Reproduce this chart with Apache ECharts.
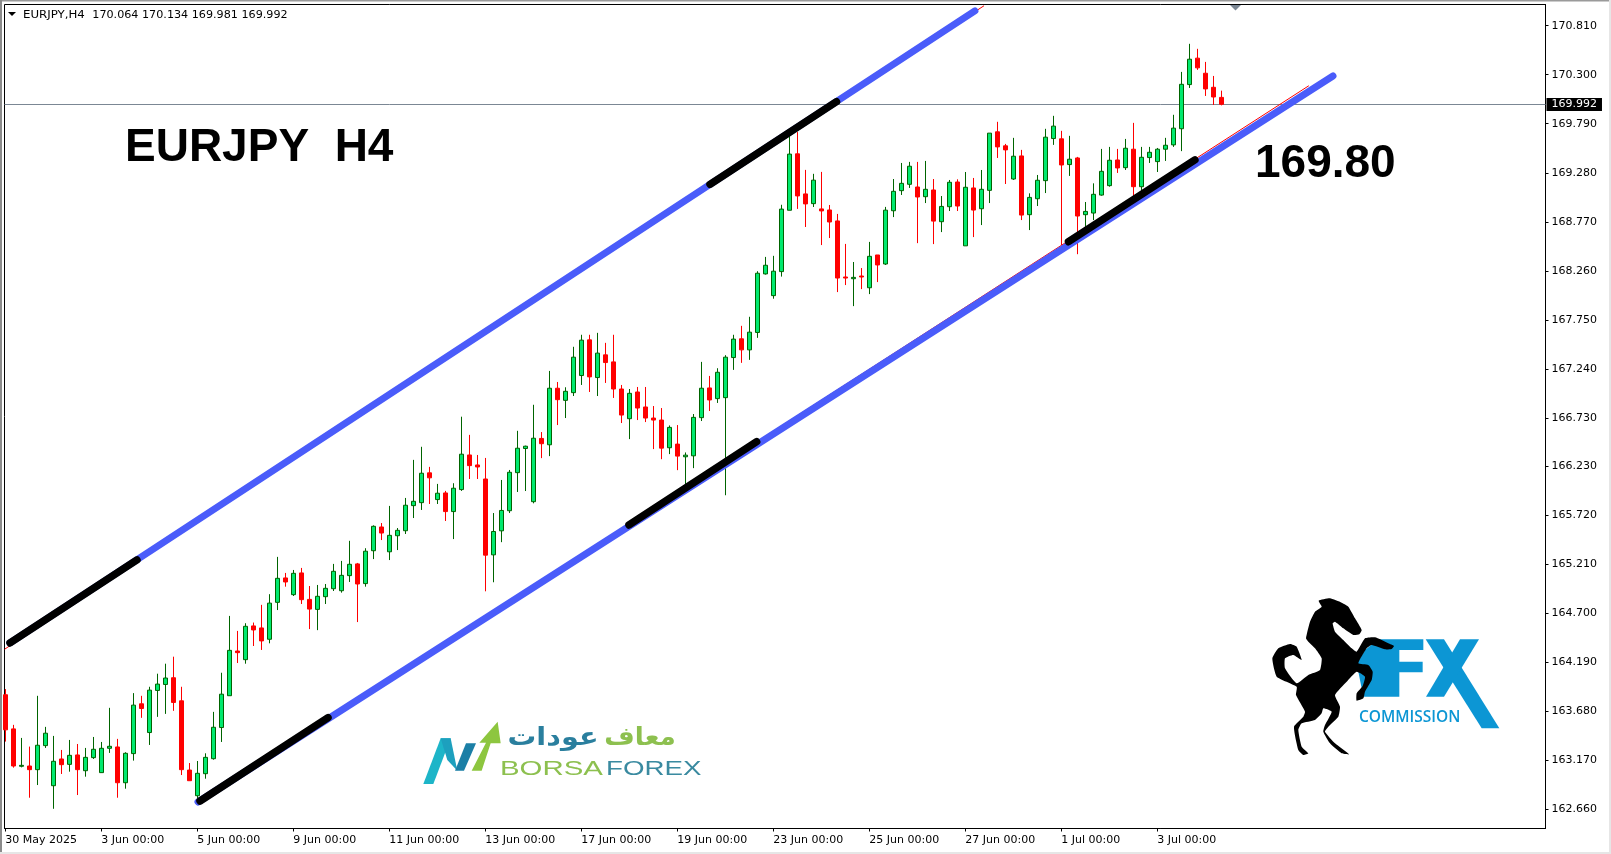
<!DOCTYPE html>
<html><head><meta charset="utf-8">
<style>html,body{margin:0;padding:0;background:#fff}#c{width:1611px;height:854px}</style>
<script src="https://cdn.jsdelivr.net/npm/echarts@6/dist/echarts.min.js"></script>
</head><body><div id="c"></div>
<script>
const opens=[163.851,163.496,163.107,163.110,163.072,163.322,162.905,163.183,163.127,163.225,
163.061,163.197,163.041,163.294,163.308,162.936,163.239,163.757,163.458,163.896,
163.958,164.028,163.788,163.068,162.801,163.030,163.186,163.510,163.841,164.306,
164.216,164.567,164.546,164.428,164.812,165.066,164.892,165.118,164.843,164.739,
164.871,164.954,164.933,165.090,165.212,165.007,165.349,165.596,165.338,165.505,
165.557,165.818,165.849,166.159,165.881,165.950,165.756,165.985,166.345,166.241,
166.095,165.306,165.556,165.765,166.161,166.412,165.859,166.517,166.451,167.039,
166.913,166.993,167.171,167.542,167.150,167.386,167.313,167.031,166.722,167.000,
166.844,166.729,166.708,166.420,166.458,166.326,166.336,166.733,167.042,166.931,
166.941,167.358,167.553,167.438,167.619,168.228,168.002,168.252,168.890,169.477,
169.060,168.959,168.904,168.893,168.779,168.196,168.178,168.206,168.084,168.425,
168.331,168.885,169.094,169.160,169.132,169.031,169.101,168.771,168.927,169.184,
168.520,169.122,168.906,169.097,169.706,169.560,169.215,169.455,168.844,169.010,
169.198,169.636,169.633,169.365,169.434,168.844,168.861,169.048,169.146,169.413,
169.333,169.525,169.135,169.438,169.396,169.525,169.570,169.738,170.197,170.472,
170.315,170.169,170.064];
const closes=[163.486,163.110,163.117,163.072,163.326,163.451,163.159,163.124,163.221,163.072,
163.200,163.284,163.294,163.315,162.936,163.242,163.743,163.708,163.899,163.962,
164.025,163.771,163.072,162.957,163.034,163.200,163.513,163.857,164.313,164.289,
164.563,164.525,164.411,164.804,165.062,165.024,165.114,164.840,164.742,164.875,
164.958,165.135,165.093,165.208,165.003,165.344,165.603,165.533,165.509,165.561,
165.822,165.863,166.155,166.107,165.947,165.756,165.999,166.353,166.234,166.220,
165.303,165.549,165.768,166.165,166.415,166.436,166.519,166.462,167.039,166.920,
167.007,167.362,167.539,167.157,167.404,167.306,167.031,166.760,166.986,166.833,
166.729,166.708,166.416,166.632,166.333,166.343,166.736,167.039,166.917,167.205,
167.362,167.550,167.438,167.622,168.235,168.318,168.256,168.902,169.474,169.039,
168.956,169.203,168.883,168.768,168.185,168.185,168.192,168.196,168.411,168.321,
168.891,169.087,169.170,169.348,169.028,169.108,168.777,168.930,169.181,168.934,
169.129,168.892,169.108,169.692,169.549,169.518,169.452,168.840,169.024,169.202,
169.650,169.765,169.361,169.421,168.830,168.878,169.056,169.295,169.410,169.330,
169.535,169.135,169.441,169.493,169.525,169.566,169.744,170.200,170.461,170.371,
170.152,170.068,169.992];
const lows=[163.364,163.093,163.096,162.780,162.912,163.298,162.665,163.027,163.051,162.808,
162.999,163.183,163.041,163.246,162.780,162.874,163.166,163.611,163.329,163.621,
163.652,163.684,163.016,162.957,162.756,162.978,163.176,163.360,163.841,164.181,
164.174,164.358,164.317,164.386,164.732,164.975,164.878,164.795,164.534,164.523,
164.795,164.930,164.913,165.024,164.607,164.975,165.262,165.460,165.252,165.356,
165.523,165.689,165.773,165.835,165.835,165.658,165.470,165.971,166.095,166.095,
164.927,165.021,165.438,165.741,165.960,165.970,165.842,166.312,166.333,166.656,
166.729,166.958,167.073,167.000,166.958,167.094,166.938,166.677,166.510,166.708,
166.687,166.406,166.301,166.354,166.187,166.030,166.208,166.698,166.802,166.886,
165.926,167.230,167.303,167.334,167.563,168.221,167.970,168.200,168.890,168.904,
168.716,168.924,168.528,168.601,168.039,168.112,167.893,168.070,168.018,168.143,
168.321,168.819,169.049,169.122,168.548,168.965,168.538,168.663,168.882,168.882,
168.520,168.611,168.736,168.965,169.434,169.163,169.205,168.788,168.684,168.934,
169.069,169.570,168.527,169.247,168.433,168.701,168.788,169.041,169.135,169.278,
169.309,169.031,169.066,169.382,169.288,169.403,169.549,169.505,170.162,170.350,
170.079,169.985,169.981];
const highs=[163.910,163.538,163.402,163.312,163.840,163.517,163.423,163.277,163.381,163.339,
163.298,163.412,163.360,163.715,163.392,163.253,163.868,163.840,163.934,164.070,
164.174,164.247,163.934,163.141,163.162,163.242,163.673,164.080,164.671,164.515,
164.595,164.602,164.786,164.897,165.285,165.118,165.149,165.170,164.982,164.993,
165.003,165.212,165.243,165.452,165.222,165.375,165.613,165.637,165.815,165.585,
165.898,166.294,166.430,166.221,166.044,165.971,166.051,166.743,166.554,166.345,
166.314,165.741,166.085,166.189,166.596,166.442,166.867,166.583,167.219,167.104,
167.049,167.470,167.595,167.595,167.615,167.511,167.595,167.073,167.031,167.052,
167.052,166.854,166.833,166.652,166.656,166.371,166.771,167.313,167.167,167.247,
167.383,167.595,167.688,167.782,168.256,168.405,168.416,168.947,169.685,169.703,
169.310,169.269,169.289,168.945,168.852,168.540,168.352,168.289,168.561,168.425,
168.925,169.215,169.382,169.393,169.393,169.403,169.215,169.038,169.205,169.212,
169.288,169.226,169.309,169.692,169.810,169.580,169.643,169.518,169.066,169.257,
169.737,169.872,169.716,169.664,169.445,168.976,169.170,169.528,169.549,169.528,
169.632,169.799,169.549,169.549,169.538,169.643,169.883,170.329,170.621,170.569,
170.433,170.287,170.134];

const yTicks=[170.81,170.30,169.79,169.28,168.77,168.26,167.75,167.24,166.73,166.23,165.72,165.21,164.70,164.19,163.68,163.17,162.66];
const xTickBars=[0,12,24,36,48,60,72,84,96,108,120,132,144];
const xTickLabels=['30 May 2025','3 Jun 00:00','5 Jun 00:00','9 Jun 00:00','11 Jun 00:00','13 Jun 00:00','17 Jun 00:00','19 Jun 00:00','23 Jun 00:00','25 Jun 00:00','27 Jun 00:00','1 Jul 00:00','3 Jul 00:00'];
const lastPrice=169.992;

const upperRed=[[-0.04,164.327],[122.3,171.015]];
const upperBlue=[[0.59,164.390],[121.2,170.963]];
const upperBlack1=[[0.59,164.390],[16.46,165.253]];
const upperBlack2=[[88.09,169.160],[103.9,170.019]];
const lowerRed=[[24.34,162.746],[162.9,170.183]];
const lowerBlue=[[24.09,162.736],[165.96,170.287]];
const lowerBlack1=[[24.34,162.746],[40.34,163.613]];
const lowerBlack2=[[77.96,165.617],[93.92,166.483]];
const lowerBlack3=[[132.9,168.563],[148.7,169.413]];

const candleData=opens.map((o,i)=>[i,o,closes[i],lows[i],highs[i]]);
const BLUE='#4A5CFA',FXBLUE='#0C96D4';
function trend(data,color,width,z){return {type:'line',data,symbol:'none',silent:true,z,lineStyle:{color,width,cap:'round'}};}

const horse=[[236,62],[270,55],[305,68],[325,80],[345,115],[365,150],[358,163],[340,165],[310,145],[285,125],[278,130],[285,155],[310,180],[335,205],[350,215],[375,175],[405,172],[445,190],[462,198],[455,207],[435,208],[395,195],[380,205],[355,250],[385,255],[398,275],[395,300],[375,335],[370,355],[350,362],[350,340],[368,318],[375,290],[350,275],[320,305],[285,345],[300,380],[295,410],[265,440],[255,455],[285,490],[327,523],[305,520],[270,490],[250,455],[255,435],[275,395],[250,385],[245,400],[225,420],[185,430],[175,450],[185,500],[205,520],[190,525],[175,510],[162,440],[190,410],[195,395],[168,345],[170,320],[110,290],[97,235],[115,205],[150,192],[170,200],[185,240],[160,225],[135,235],[135,265],[170,310],[205,285],[240,270],[245,235],[225,205],[205,185],[198,175],[210,125],[225,95],[245,80]];

const chart=echarts.init(document.getElementById('c'),null,{renderer:'canvas'});
chart.setOption({
  animation:false,
  backgroundColor:'#ffffff',
  grid:{left:4.5,right:65.5,top:4.5,bottom:25.5,show:true,borderColor:'#000',borderWidth:1,backgroundColor:'#fff'},
  xAxis:{type:'value',min:-0.1,max:192.525,splitLine:{show:false},
    axisLine:{lineStyle:{color:'#000',width:1},onZero:false},
    axisTick:{length:3,lineStyle:{color:'#000'},customValues:xTickBars},
    axisLabel:{customValues:xTickBars,color:'#000',fontFamily:'DejaVu Sans',fontSize:11,align:'left',margin:6,
      formatter:v=>xTickLabels[xTickBars.indexOf(v)]||''}},
  yAxis:{type:'value',position:'right',min:162.460,max:171.030,splitLine:{show:false},scale:true,
    axisLine:{show:true,lineStyle:{color:'#000',width:1},onZero:false},
    axisTick:{show:true,length:3,lineStyle:{color:'#000'},customValues:yTicks},
    axisLabel:{customValues:yTicks,color:'#000',fontFamily:'DejaVu Sans',fontSize:11,align:'left',margin:6,padding:[2,0,0,0],
      formatter:v=>v.toFixed(3)}},
  series:[
    {type:'candlestick',data:candleData,encode:{x:0,y:[1,2,3,4]},barWidth:5,clip:true,z:3,
      itemStyle:{color:'#00E96F',color0:'#FF0000',borderColor:'#006400',borderColor0:'#FF0000',borderWidth:1},
      markLine:{silent:true,symbol:'none',animation:false,z:2,
        data:[{yAxis:lastPrice}],
        lineStyle:{color:'#7B8794',width:1,type:'solid'},
        label:{show:true,position:'end',distance:1,formatter:lastPrice.toFixed(3),color:'#fff',backgroundColor:'#000',
          fontFamily:'DejaVu Sans',fontSize:11,padding:[0,5,0,5],lineHeight:13}}},
    trend(upperRed,'#FF0000',1,4),
    trend(lowerRed,'#FF0000',1,4),
    trend(upperBlue,BLUE,7,5),
    trend(lowerBlue,BLUE,7,5),
    trend(upperBlack1,'#000',7.5,6),
    trend(upperBlack2,'#000',7.5,6),
    trend(lowerBlack1,'#000',7.5,6),
    trend(lowerBlack2,'#000',7.5,6),
    trend(lowerBlack3,'#000',7.5,6)
  ],
  graphic:[
    {type:'rect',silent:true,shape:{x:0,y:0,width:1611,height:1.5},style:{fill:'#9a9a9a'}},
    {type:'rect',silent:true,shape:{x:0,y:0,width:2,height:854},style:{fill:'#8c8c8c'}},
    {type:'rect',silent:true,shape:{x:0,y:852,width:1611,height:2},style:{fill:'#e6e6e6'}},
    {type:'rect',silent:true,shape:{x:1609,y:0,width:2,height:854},style:{fill:'#e6e6e6'}},
    {type:'polygon',silent:true,shape:{points:[[8,12],[16,12],[12,16]]},style:{fill:'#000'}},
    {type:'text',silent:true,x:23,y:15,scaleX:1.07,style:{text:'EURJPY,H4',fontFamily:'DejaVu Sans',fontSize:11,fill:'#000',verticalAlign:'middle'}},
    {type:'text',silent:true,x:92.3,y:15,scaleX:1.015,style:{text:'170.064 170.134 169.981 169.992',fontFamily:'DejaVu Sans',fontSize:11,fill:'#000',verticalAlign:'middle'}},
    {type:'polygon',silent:true,shape:{points:[[1230,5],[1241,5],[1235.5,10.5]]},style:{fill:'#7B8794'}},
    {type:'text',silent:true,x:125,y:148,style:{text:'EURJPY  H4',fontFamily:'Liberation Sans',fontWeight:'bold',fontSize:46,fill:'#000',verticalAlign:'middle'}},
    {type:'text',silent:true,x:1255,y:164,style:{text:'169.80',fontFamily:'Liberation Sans',fontWeight:'bold',fontSize:46,fill:'#000',verticalAlign:'middle'}},
    {type:'group',silent:true,x:1240,y:580,scaleX:1/3,scaleY:1/3,children:[
      {type:'polygon',shape:{points:[[415,178],[550,178],[550,210],[478,210],[478,245],[548,245],[548,277],[478,277],[478,350],[370,350],[350,250],[375,210]]},style:{fill:FXBLUE}},
      {type:'polygon',shape:{points:[[557,178],[612,178],[778,445],[725,445]]},style:{fill:FXBLUE}},
      {type:'polygon',shape:{points:[[660,178],[717,178],[612,350],[558,350]]},style:{fill:FXBLUE}},
      {type:'polygon',shape:{points:horse,smooth:0.15},style:{fill:'#000'}}
    ]},
    {type:'text',silent:true,x:1359,y:718,style:{text:'COMMISSION',fontFamily:'Open Sans',fontWeight:600,fontSize:15.5,fill:FXBLUE,verticalAlign:'middle'}},
    {type:'group',silent:true,x:400,y:700,scaleX:1/3,scaleY:1/3,children:[
      {type:'polygon',shape:{points:[[70,252],[100,252],[152,115],[122,115]]},style:{fill:'#1DB5C8'}},
      {type:'polygon',shape:{points:[[122,115],[152,115],[172,212],[142,180]]},style:{fill:'#1DA0BE'}},
      {type:'polygon',shape:{points:[[165,212],[192,212],[228,130],[198,130]]},style:{fill:'#1B7FA6'}},
      {type:'polygon',shape:{points:[[215,212],[245,212],[272,130],[302,130],[293,65],[238,128],[258,128]]},style:{fill:'#8DC63F'}}
    ]},
    {type:'text',silent:true,x:500,y:769,scaleX:1.40,style:{text:'BORSA',fontFamily:'Liberation Sans',fontSize:21,fill:'#8DC04F',verticalAlign:'middle'}},
    {type:'text',silent:true,x:606,y:769,scaleX:1.32,style:{text:'FOREX',fontFamily:'Liberation Sans',fontSize:21,fill:'#3A8AA0',verticalAlign:'middle'}},
    {type:'text',silent:true,x:640,y:738,scaleX:1.05,style:{text:'معاف',fontFamily:'DejaVu Sans',fontWeight:'bold',fontSize:25,fill:'#8DC04F',align:'center',verticalAlign:'middle'}},
    {type:'text',silent:true,x:553,y:738,scaleX:1.15,style:{text:'عودات',fontFamily:'DejaVu Sans',fontWeight:'bold',fontSize:25,fill:'#2A7F9E',align:'center',verticalAlign:'middle'}}
  ]
});
</script></body></html>
